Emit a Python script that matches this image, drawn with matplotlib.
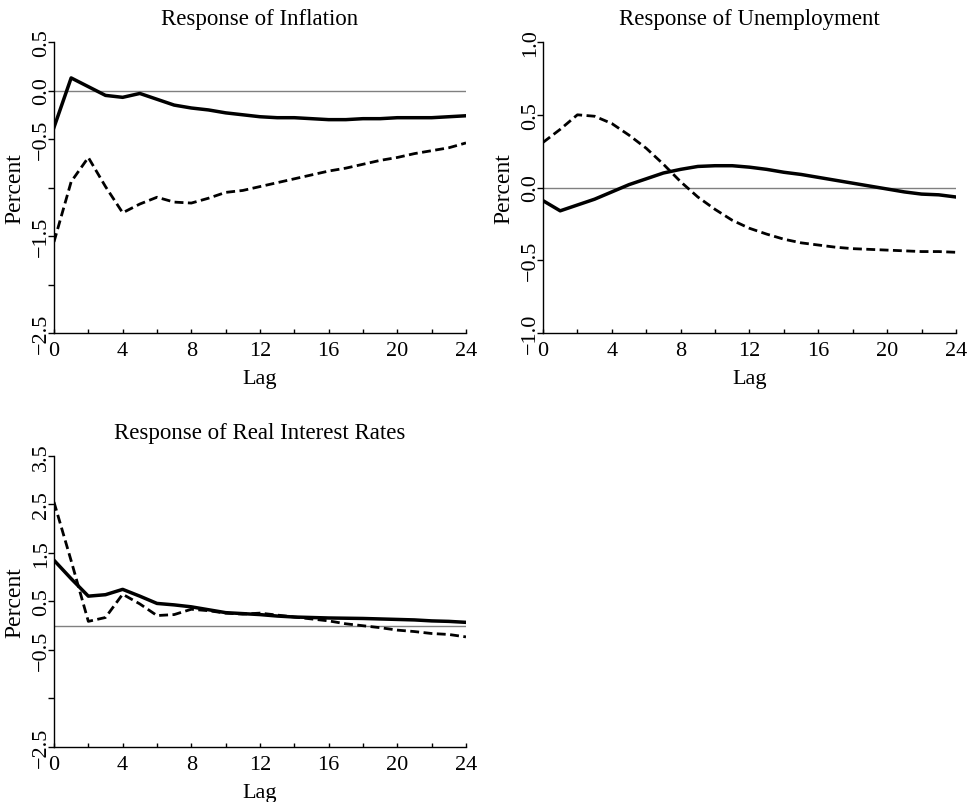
import numpy as np
import matplotlib
matplotlib.use("Agg")
import matplotlib.pyplot as plt

plt.rcParams["font.family"] = ["Liberation Serif", "DejaVu Serif"]

lags = list(range(25))

# response of inflation
infl_solid = [-0.38, 0.13, 0.04, -0.05, -0.07, -0.03, -0.09, -0.15, -0.18, -0.20,
              -0.23, -0.25, -0.27, -0.28, -0.28, -0.29, -0.30, -0.30, -0.29, -0.29,
              -0.28, -0.28, -0.28, -0.27, -0.26]
infl_dashed = [-1.56, -0.94, -0.69, -0.99, -1.26, -1.17, -1.10, -1.15, -1.16, -1.11,
               -1.05, -1.03, -0.99, -0.95, -0.91, -0.87, -0.83, -0.80, -0.76, -0.72,
               -0.69, -0.65, -0.62, -0.59, -0.54]

# response of unemployment
unemp_solid = [-0.09, -0.16, -0.12, -0.08, -0.03, 0.02, 0.06, 0.10, 0.125, 0.145,
               0.15, 0.15, 0.14, 0.125, 0.105, 0.09, 0.07, 0.05, 0.03, 0.01,
               -0.01, -0.03, -0.045, -0.05, -0.065]
unemp_dashed = [0.31, 0.40, 0.50, 0.49, 0.44, 0.36, 0.27, 0.16, 0.04, -0.065,
                -0.15, -0.225, -0.28, -0.32, -0.355, -0.38, -0.395, -0.41, -0.42, -0.425,
                -0.43, -0.435, -0.44, -0.44, -0.445]

# response of real interest rates
rate_solid = [1.35, 0.97, 0.61, 0.64, 0.75, 0.61, 0.46, 0.43, 0.39, 0.33,
              0.27, 0.25, 0.23, 0.20, 0.18, 0.17, 0.16, 0.155, 0.15, 0.14,
              0.13, 0.12, 0.10, 0.09, 0.07]
rate_dashed = [2.55, 1.34, 0.09, 0.17, 0.65, 0.45, 0.21, 0.23, 0.34, 0.31,
               0.26, 0.24, 0.26, 0.22, 0.18, 0.14, 0.10, 0.04, 0.00, -0.04,
               -0.09, -0.12, -0.16, -0.18, -0.23]

infl_ticks = [0.5, 0.0, -0.5, -1.0, -1.5, -2.0, -2.5]
infl_labels = ["0.5", "0.0", "\u22120.5", "", "\u22121.5", "", "\u22122.5"]
unemp_ticks = [1.0, 0.5, 0.0, -0.5, -1.0]
unemp_labels = ["1.0", "0.5", "0.0", "\u22120.5", "\u22121.0"]
rate_ticks = [3.5, 2.5, 1.5, 0.5, -0.5, -1.5, -2.5]
rate_labels = ["3.5", "2.5", "1.5", "0.5", "\u22120.5", "", "\u22122.5"]

fig = plt.figure(figsize=(9.71, 8.03), dpi=100)

panels = [
    ([0.0556, 0.584, 0.4243, 0.3624], "Response of Inflation", infl_solid, infl_dashed,
     infl_ticks, infl_labels, (-2.5, 0.5)),
    ([0.5592, 0.584, 0.4253, 0.3624], "Response of Unemployment", unemp_solid, unemp_dashed,
     unemp_ticks, unemp_labels, (-1.0, 1.0)),
    ([0.0556, 0.0685, 0.4243, 0.3624], "Response of Real Interest Rates", rate_solid, rate_dashed,
     rate_ticks, rate_labels, (-2.5, 3.5)),
]

for rect, title, solid, dashed, yt, ylab, ylim in panels:
    ax = fig.add_axes(rect)
    ax.axhline(0, color="#808080", lw=1.0, zorder=1)
    ax.plot(lags, solid, color="black", lw=2.5, zorder=3)
    ax.plot(lags, dashed, color="black", lw=2.0, linestyle=(0, (3.2, 1.6)), zorder=3)

    ax.set_xlim(0, 24)
    ax.set_ylim(*ylim)
    ax.set_xticks(range(0, 25, 4))
    ax.set_xticks(range(0, 25, 2), minor=True)
    ax.set_yticks(yt)
    ax.set_yticklabels(ylab, rotation=90, va="center")

    ax.spines["top"].set_visible(False)
    ax.spines["right"].set_visible(False)
    for s in ["left", "bottom"]:
        ax.spines[s].set_linewidth(1.0)

    ax.tick_params(axis="x", which="both", direction="in", length=3, width=1.0,
                   labelsize=16, pad=6)
    ax.tick_params(axis="y", direction="out", length=4, width=1.0, labelsize=16, pad=-2)

    ax.set_title(title, fontsize=16.5, pad=13)
    ax.set_xlabel("Lag", fontsize=16, labelpad=6)
    ax.set_ylabel("Percent", fontsize=17, labelpad=5)

plt.savefig("out.png", dpi=100)
